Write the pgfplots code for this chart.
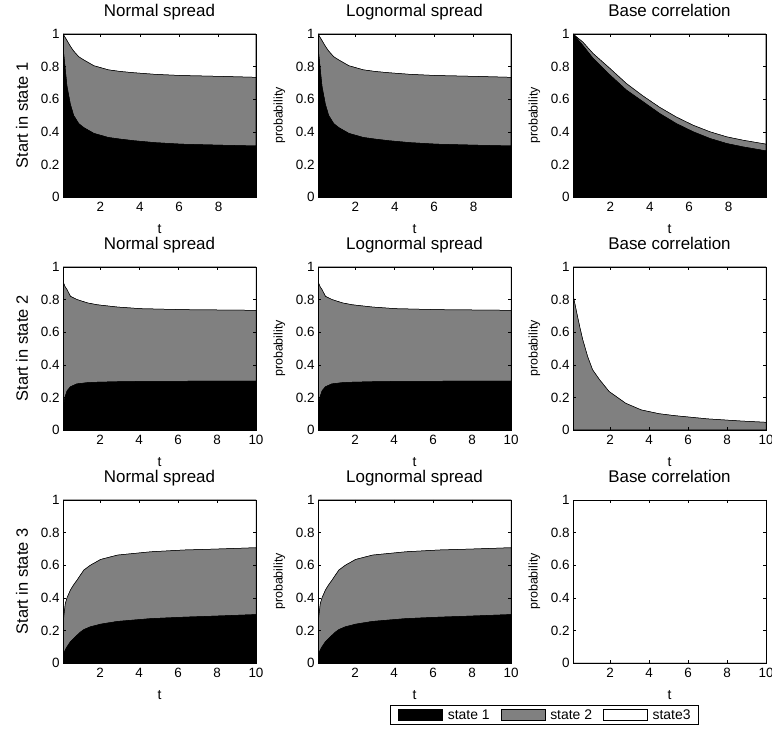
\documentclass[border=0pt]{standalone}
\usepackage{pgfplots}
\pgfplotsset{compat=1.18}
\usepackage{pgfplotstable}
\usepackage{fontspec}
\setmainfont{Liberation Sans}
\definecolor{mgray}{RGB}{128,128,128}

% start in state 1, normal / lognormal spread
\pgfplotstableread{
t a b c
0.1 0.92 0.08 0.00
0.2 0.80 0.18 0.02
0.3 0.68 0.28 0.04
0.47 0.57 0.355 0.075
0.64 0.50 0.395 0.105
0.9 0.45 0.41 0.14
1.16 0.425 0.415 0.16
1.67 0.39 0.415 0.195
2.4 0.365 0.415 0.22
3.0 0.355 0.415 0.23
3.7 0.345 0.417 0.238
4.8 0.333 0.419 0.248
6.1 0.324 0.421 0.255
8.0 0.318 0.422 0.26
9.9 0.313 0.421 0.266
}\tabA
% start in state 1, base correlation
\pgfplotstableread{
t a b c
0.1 1.00 0.00 0.00
0.6 0.93 0.02 0.05
1.12 0.85 0.03 0.12
1.96 0.75 0.04 0.21
2.81 0.656 0.04 0.304
3.66 0.584 0.035 0.381
4.5 0.512 0.038 0.45
5.35 0.45 0.04 0.51
6.2 0.40 0.04 0.56
7.05 0.359 0.041 0.60
7.9 0.328 0.041 0.631
8.74 0.307 0.041 0.652
9.9 0.283 0.041 0.676
}\tabB
% start in state 2, normal / lognormal spread
\pgfplotstableread{
t a b c
0.1 0.12 0.79 0.09
0.2 0.20 0.68 0.12
0.31 0.24 0.62 0.14
0.48 0.265 0.555 0.18
0.82 0.283 0.517 0.20
1.34 0.29 0.49 0.22
1.86 0.293 0.475 0.232
2.9 0.296 0.458 0.246
4.1 0.298 0.446 0.256
6.3 0.299 0.439 0.262
10 0.30 0.434 0.266
}\tabC
% start in state 2, base correlation
\pgfplotstableread{
t a b c
0.1 0 0.83 0.17
0.27 0 0.73 0.27
0.45 0 0.63 0.37
0.6 0 0.553 0.447
0.85 0 0.45 0.55
1.1 0 0.37 0.63
1.45 0 0.31 0.69
1.95 0 0.236 0.764
2.8 0 0.164 0.836
3.6 0 0.123 0.877
4.5 0 0.10 0.90
5.3 0 0.088 0.912
7.0 0 0.068 0.932
8.7 0 0.055 0.945
10 0 0.047 0.953
}\tabD
% start in state 3, normal / lognormal spread
\pgfplotstableread{
t a b c
0.1 0.047 0.193 0.76
0.22 0.08 0.285 0.635
0.31 0.10 0.30 0.60
0.48 0.13 0.317 0.553
0.65 0.15 0.33 0.52
0.82 0.17 0.338 0.492
1.0 0.19 0.35 0.46
1.17 0.205 0.365 0.43
1.51 0.222 0.378 0.40
2.03 0.238 0.397 0.365
2.9 0.255 0.407 0.338
4.6 0.272 0.41 0.318
6.3 0.281 0.412 0.307
8.0 0.288 0.411 0.301
10 0.297 0.41 0.293
}\tabE
% start in state 3, base correlation
\pgfplotstableread{
t a b c
0.1 0 0 1
10 0 0 1
}\tabF

\pgfplotsset{
  panel/.style={
    scale only axis, width=193bp, height=163bp,
    xmin=0.1, xmax=10, ymin=0, ymax=1,
    stack plots=y, axis on top,
    axis line style={line width=0.6bp},
    every tick/.style={black, line width=0.5bp}, major tick length=3bp,
    ytick={0,0.2,0.4,0.6,0.8,1}, yticklabels={0,0.2,0.4,0.6,0.8,1},
    xtick={2,4,6,8,10},
    /pgf/number format/assume math mode=true,
    tick label style={font=\fontsize{13.5}{15}\selectfont},
    xticklabel style={yshift=-2bp},
    title style={font=\fontsize{17}{19}\selectfont, at={(axis description cs:0.5,1)}, anchor=base, yshift=11.5bp, inner sep=0pt},
    xlabel={t},
    xlabel style={font=\fontsize{14}{16}\selectfont, at={(axis description cs:0.5,0)}, anchor=base, yshift=-37bp, inner sep=0pt},
    ylabel style={at={(axis description cs:-0.2,0.5)}, anchor=center, inner sep=0pt},
    legend image code/.code={\draw[#1] (0bp,-5.5bp) rectangle (44bp,5.5bp); \path (49bp,0bp);},
  },
  firstcol/.style={ylabel style={font=\fontsize{16.5}{18}\selectfont, at={(axis description cs:-0.212,0.5)}}},
  probcol/.style={ylabel={probability}, ylabel style={font=\fontsize{12.5}{14}\selectfont}},
  toprow/.style={xmax=9.9, xtick={2,4,6,8}},
  sA/.style={fill=black, draw=black, line width=0.5bp},
  sB/.style={fill=mgray, draw=black, line width=0.5bp},
  sC/.style={fill=white, draw=black, line width=0.5bp},
}

\newcommand{\stackthree}[1]{%
  \addplot[sA] table[x=t,y=a]{#1} \closedcycle;
  \addplot[sB] table[x=t,y=b]{#1} \closedcycle;
  \addplot[sC] table[x=t,y=c]{#1} \closedcycle;
}

\begin{document}
\begin{tikzpicture}
\useasboundingbox (0,0) rectangle (772bp,734bp);
% row 1
\begin{axis}[panel, toprow, firstcol, at={(63bp,700bp)}, anchor=north west,
  title={Normal spread}, ylabel={Start in state 1}]
\stackthree{\tabA}
\end{axis}
\begin{axis}[panel, toprow, probcol, at={(318bp,700bp)}, anchor=north west,
  title={Lognormal spread}]
\stackthree{\tabA}
\end{axis}
\begin{axis}[panel, toprow, probcol, at={(573bp,700bp)}, anchor=north west,
  title={Base correlation}]
\stackthree{\tabB}
\end{axis}
% row 2
\begin{axis}[panel, firstcol, at={(63bp,467bp)}, anchor=north west,
  title={Normal spread}, ylabel={Start in state 2}]
\stackthree{\tabC}
\end{axis}
\begin{axis}[panel, probcol, at={(318bp,467bp)}, anchor=north west,
  title={Lognormal spread}]
\stackthree{\tabC}
\end{axis}
\begin{axis}[panel, probcol, at={(573bp,467bp)}, anchor=north west,
  title={Base correlation}]
\stackthree{\tabD}
\end{axis}
% row 3
\begin{axis}[panel, firstcol, at={(63bp,234bp)}, anchor=north west,
  title={Normal spread}, ylabel={Start in state 3}]
\stackthree{\tabE}
\end{axis}
\begin{axis}[panel, probcol, at={(318bp,234bp)}, anchor=north west,
  title={Lognormal spread},
  legend columns=3,
  legend style={at={(axis description cs:1.1736,-0.319)}, anchor=center,
    draw=black, line width=0.5bp, font=\fontsize{14}{15}\selectfont,
    inner xsep=8bp, inner ysep=3bp,
    nodes={inner xsep=0bp, inner ysep=1bp},
    /tikz/column sep=0bp,
    /tikz/every even column/.append style={column sep=11bp}},
  legend cell align=left]
\stackthree{\tabE}
\legend{state 1, state 2, state3}
\end{axis}
\begin{axis}[panel, probcol, at={(573bp,234bp)}, anchor=north west,
  title={Base correlation}]
\stackthree{\tabF}
\end{axis}
\end{tikzpicture}
\end{document}
